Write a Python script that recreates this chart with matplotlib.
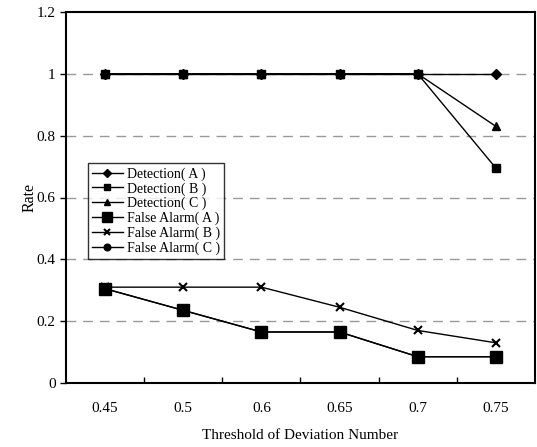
import matplotlib
matplotlib.use("Agg")
import matplotlib.pyplot as plt
import numpy as np

thresholds = ["0.45", "0.5", "0.6", "0.65", "0.7", "0.75"]

detection_a = [1.0, 1.0, 1.0, 1.0, 1.0, 1.0]
detection_b = [1.0, 1.0, 1.0, 1.0, 1.0, 0.695]
detection_c = [1.0, 1.0, 1.0, 1.0, 1.0, 0.83]
false_alarm_a = [0.305, 0.235, 0.165, 0.165, 0.085, 0.085]
false_alarm_b = [0.31, 0.31, 0.31, 0.245, 0.17, 0.13]
false_alarm_c = [0.305, 0.235, 0.165, 0.165, 0.085, 0.085]

plt.rcParams["font.family"] = ["Liberation Serif", "DejaVu Serif"]

fig = plt.figure(figsize=(5.37, 4.47), dpi=100)
ax = fig.add_axes([66 / 537, 64 / 447, 469 / 537, 371 / 447])

x = np.arange(len(thresholds))
lw = 1.0
# drawn so that the overlapping series hide each other like in the original
ax.plot(x, false_alarm_c, color="black", lw=lw, marker="o", ms=6, label="False Alarm( C )", zorder=3)
ax.plot(x, false_alarm_b, color="black", lw=lw, marker="x", ms=6, mew=1.5, label="False Alarm( B )", zorder=3)
ax.plot(x, false_alarm_a, color="black", lw=lw, marker="s", ms=9, label="False Alarm( A )", zorder=4)
ax.plot(x, detection_c, color="black", lw=lw, marker="^", ms=6, label="Detection( C )", zorder=3)
ax.plot(x, detection_a, color="black", lw=lw, marker="D", ms=5, label="Detection( A )", zorder=3)
ax.plot(x, detection_b, color="black", lw=lw, marker="s", ms=6, label="Detection( B )", zorder=4)

ax.set_xlim(-0.5, len(thresholds) - 0.5)
ax.set_ylim(0, 1.2)
ax.set_xticks(x)
ax.set_xticklabels(thresholds)
ax.set_xticks(np.arange(0.5, len(thresholds) - 0.5), minor=True)
ax.tick_params(axis="x", which="major", length=0, pad=14, labelsize=11)
ax.tick_params(axis="x", which="minor", direction="in", length=4, width=1)
ax.set_yticks([0, 0.2, 0.4, 0.6, 0.8, 1.0, 1.2])
ax.set_yticklabels(["0", "0.2", "0.4", "0.6", "0.8", "1", "1.2"])
ax.tick_params(axis="y", direction="out", length=4, width=1, labelsize=11)

for v in [0.2, 0.4, 0.6, 0.8, 1.0]:
    ax.axhline(v, color="#999999", lw=1, ls=(0, (7, 5)), zorder=1)

for s in ax.spines.values():
    s.set_linewidth(1.5)
    s.set_color("black")

ax.set_xlabel("Threshold of Deviation Number", fontsize=11, labelpad=10)
ax.set_ylabel("Rate", fontsize=11.5, labelpad=-1)

handles, labels = ax.get_legend_handles_labels()
order = ["Detection( A )", "Detection( B )", "Detection( C )",
         "False Alarm( A )", "False Alarm( B )", "False Alarm( C )"]
hmap = dict(zip(labels, handles))
leg = ax.legend([hmap[k] for k in order], order, loc="upper left",
                bbox_to_anchor=(22 / 469, 220 / 371), fontsize=10,
                frameon=True, fancybox=False, edgecolor="black",
                borderpad=0.3, labelspacing=0.1, handlelength=2.2,
                handletextpad=0.3, borderaxespad=0.0, markerscale=0.8)
leg.get_frame().set_linewidth(1)

fig.savefig("out.png", dpi=100)
